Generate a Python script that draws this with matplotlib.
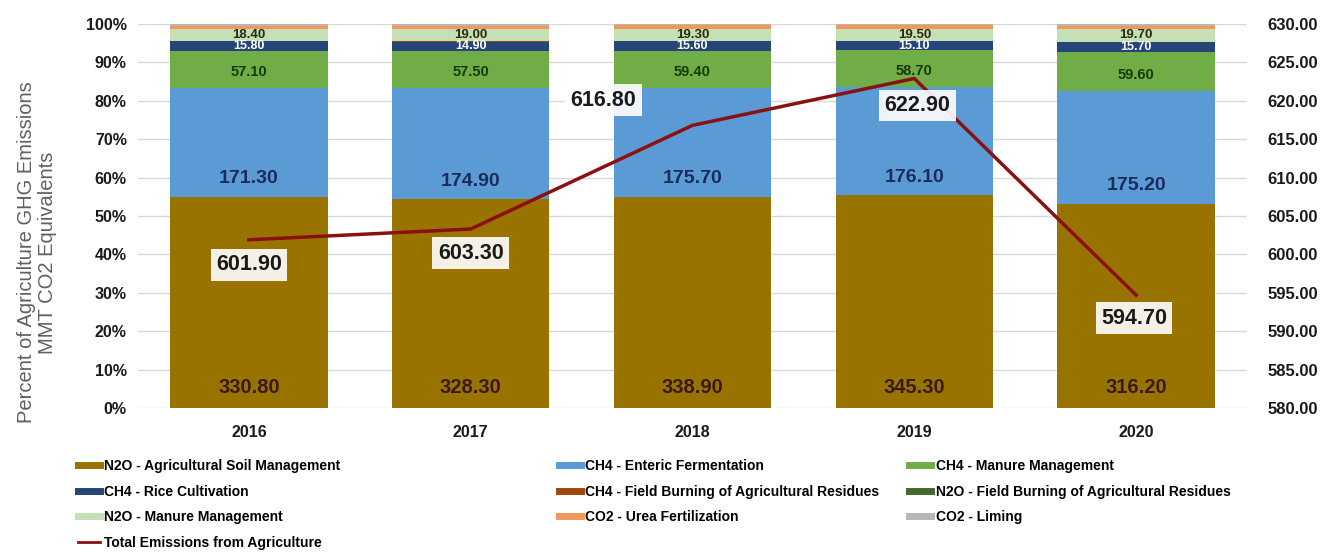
import numpy as np
import matplotlib.pyplot as plt
from matplotlib.lines import Line2D

plt.rcParams['font.family'] = ['Liberation Sans', 'DejaVu Sans']

years = ['2016', '2017', '2018', '2019', '2020']

# MMT CO2 eq by source
n2o_soil = [330.8, 328.3, 338.9, 345.3, 316.2]
ch4_enteric = [171.3, 174.9, 175.7, 176.1, 175.2]
ch4_manure = [57.1, 57.5, 59.4, 58.7, 59.6]
ch4_rice = [15.8, 14.9, 15.6, 15.1, 15.7]
ch4_burning = [0.4, 0.4, 0.4, 0.4, 0.4]
n2o_burning = [0.2, 0.2, 0.2, 0.2, 0.2]
n2o_manure = [18.4, 19.0, 19.3, 19.5, 19.7]
co2_urea = [5.1, 5.1, 5.0, 5.3, 5.3]
co2_liming = [2.8, 3.0, 2.3, 2.3, 2.4]
total = [601.9, 603.3, 616.8, 622.9, 594.7]

series = [
    ('N2O - Agricultural Soil Management', n2o_soil, '#997300'),
    ('CH4 - Enteric Fermentation', ch4_enteric, '#5B9BD5'),
    ('CH4 - Manure Management', ch4_manure, '#70AD47'),
    ('CH4 - Rice Cultivation', ch4_rice, '#264478'),
    ('CH4 - Field Burning of Agricultural Residues', ch4_burning, '#9E480E'),
    ('N2O - Field Burning of Agricultural Residues', n2o_burning, '#43682B'),
    ('N2O - Manure Management', n2o_manure, '#C5E0B4'),
    ('CO2 - Urea Fertilization', co2_urea, '#F1975A'),
    ('CO2 - Liming', co2_liming, '#B7B7B7'),
]

x = np.arange(len(years))
tot = np.array(total)

fig = plt.figure(figsize=(13.37, 5.52), dpi=100)
ax = fig.add_axes([0.1032, 0.2609, 0.8295, 0.6957])

bottom = np.zeros(len(years))
segs = {}
for name, vals, color in series:
    pct = np.array(vals) / tot * 100
    ax.bar(x, pct, 0.71, bottom=bottom, color=color, zorder=2)
    segs[name] = (bottom.copy(), pct)
    bottom += pct

# value labels on the bars
label_style = [
    ('N2O - Agricultural Soil Management', n2o_soil, '#3B1A14', 14.5, 20),
    ('CH4 - Enteric Fermentation', ch4_enteric, '#1C2B5A', 14, 18),
    ('CH4 - Manure Management', ch4_manure, '#173B08', 10.5, 16),
]
for name, vals, col, size, off in label_style:
    b, h = segs[name]
    for i, v in enumerate(vals):
        ax.annotate(f'{v:.2f}', (x[i], b[i]), xytext=(0, off), textcoords='offset pixels',
                    ha='center', va='center', fontsize=size, fontweight='bold', color=col, zorder=5)

for name, vals, col, size in [('CH4 - Rice Cultivation', ch4_rice, 'white', 9),
                              ('N2O - Manure Management', n2o_manure, '#2A2A10', 9.5)]:
    b, h = segs[name]
    for i, v in enumerate(vals):
        ax.text(x[i], b[i] + h[i] / 2, f'{v:.2f}', ha='center', va='center',
                fontsize=size, fontweight='bold', color=col, zorder=5)

ax.set_ylim(0, 100)
ax.set_xlim(-0.5, 4.5)
ax.set_yticks(np.arange(0, 101, 10))
ax.set_yticklabels([f'{t}%' for t in range(0, 101, 10)])
ax.set_xticks(x)
ax.set_xticklabels(years)
ax.grid(axis='y', color='#D9D9D9', lw=1, zorder=0)
for s in ax.spines.values():
    s.set_visible(False)
ax.tick_params(axis='y', length=0, labelsize=11.5, colors='#1A1A1A', pad=8)
ax.tick_params(axis='x', length=0, labelsize=11.5, colors='#1A1A1A', pad=12)
for t in ax.get_xticklabels() + ax.get_yticklabels():
    t.set_fontweight('bold')

ax.set_ylabel('Percent of Agriculture GHG Emissions\nMMT CO2 Equivalents', fontsize=14.5,
              color='#606060', linespacing=1.15)
ax.yaxis.set_label_coords(-0.073, 0.405)

# total emissions on the secondary axis
ax2 = ax.twinx()
ax2.set_ylim(580, 630)
ax2.set_yticks(np.arange(580, 631, 5))
ax2.set_yticklabels([f'{t:.2f}' for t in np.arange(580, 631, 5)])
for s in ax2.spines.values():
    s.set_visible(False)
ax2.tick_params(length=0, labelsize=12, colors='#1A1A1A', pad=15)
for t in ax2.get_yticklabels():
    t.set_fontweight('bold')
ax2.plot(x, total, color='#8B1010', lw=2.5, zorder=4)

offsets = [(0, -25), (0, -24), (-89, 25), (3, -27), (-2, -23)]
for i, v in enumerate(total):
    ax2.annotate(f'{v:.2f}', (x[i], v), xytext=offsets[i], textcoords='offset pixels',
                 ha='center', va='center', fontsize=15.5, fontweight='bold',
                 color='#1A1A1A', zorder=6,
                 bbox=dict(boxstyle='square,pad=0.25', fc='white', ec='none', alpha=0.9))

# legend, three columns laid out row by row
handles = [Line2D([], [], color=c, lw=5) for _, _, c in series]
names = [n for n, _, _ in series]
handles.append(Line2D([], [], color='#8B1010', lw=2))
names.append('Total Emissions from Agriculture')
cols = [[0, 3, 6, 9], [1, 4, 7], [2, 5, 8]]
xpos = [0.058, 0.418, 0.680]
for c, xp in zip(cols, xpos):
    fig.legend([handles[i] for i in c], [names[i] for i in c], loc='upper left',
               bbox_to_anchor=(xp, 0.168), frameon=False,
               prop={'weight': 'bold', 'size': 10}, handlelength=1.6, handletextpad=0.3,
               labelspacing=0.83, borderpad=0, borderaxespad=0)

fig.savefig('out.png', dpi=100)
